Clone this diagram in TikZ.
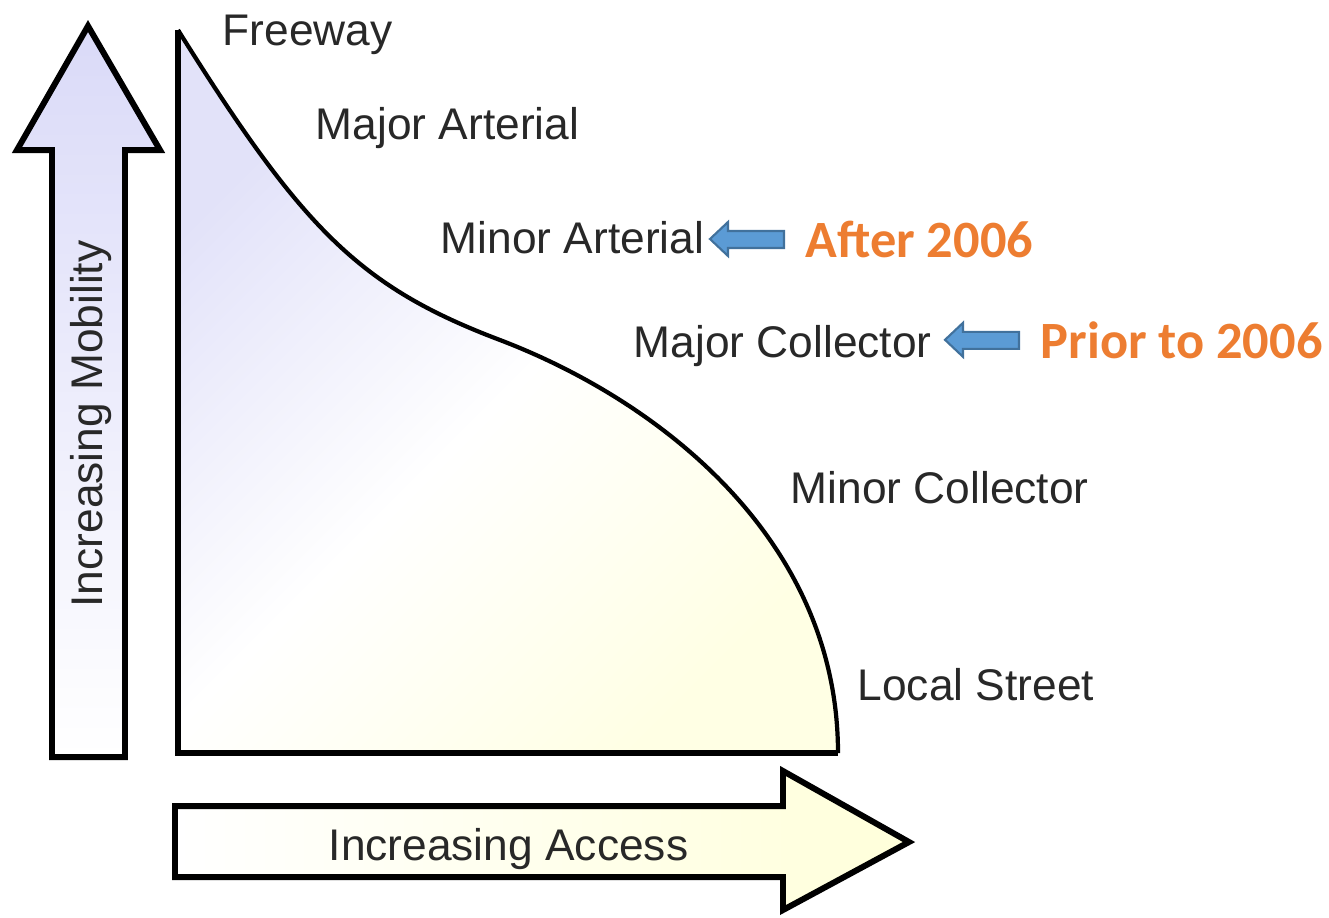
\documentclass[tikz,border=0pt]{standalone}
\usepackage{fontspec}
\setmainfont{Liberation Sans}
\newfontfamily\calibri{Carlito}
\usetikzlibrary{positioning,calc,shadings}

\definecolor{lavender}{RGB}{218,218,248}
\definecolor{paleyellow}{RGB}{255,255,218}
\definecolor{fadelav}{RGB}{226,226,249}
\definecolor{fadeyel}{RGB}{255,255,228}
\definecolor{labelgray}{RGB}{40,40,40}
\definecolor{noteorange}{RGB}{237,125,49}
\definecolor{arrowblue}{RGB}{91,155,213}
\definecolor{arrowedge}{RGB}{65,113,156}

\pgfdeclarehorizontalshading{roadfade}{100bp}{color(0bp)=(fadelav); color(25bp)=(fadelav); color(50bp)=(white); color(75bp)=(fadeyel); color(100bp)=(fadeyel)}

\tikzset{
  road/.style={font=\fontsize{12.6}{15}\selectfont, text=labelgray, inner sep=0pt, anchor=base west},
  note/.style={font=\calibri\bfseries\fontsize{14.9}{17}\selectfont, text=noteorange, inner sep=0pt, anchor=base west},
  bigarrow/.style={line width=1.7pt, line join=miter},
  pointer/.style={fill=arrowblue, draw=arrowedge, line width=0.6pt}
}

\begin{document}
\begin{tikzpicture}[x=0.01cm,y=-0.01cm]
\useasboundingbox (0,0) rectangle (1329,917);
% mobility arrow
\coordinate (ut) at (88,26);
\draw[bigarrow, top color=lavender, bottom color=white] (52,757) -- (52,150) -- (17,150) -- (ut) -- (160,150) -- (125,150) -- (125,757) -- cycle;
\node[rotate=90, font=\fontsize{12.6}{15}\selectfont, text=labelgray] (mob) at (91,424) {Increasing Mobility};
% access arrow
\coordinate (rt) at (909,842);
\draw[bigarrow, left color=white, right color=paleyellow] (175,806) -- (783,806) -- (783,771) -- (rt) -- (783,910) -- (783,877) -- (175,877) -- cycle;
\node[road] (acc) at (328,860) {Increasing Access};
% the curve
\coordinate (fw) at (178,30);
\coordinate (o) at (178,753);
\coordinate (ls) at (838,753);
\coordinate (mid) at (500,340);
\shade[shading=roadfade, shading angle=-45] (fw) -- (o) -- (ls) .. controls (838,543) and (665,403) .. (mid) .. controls (360,287) and (303,230) .. (fw);
\draw[line width=1.2pt] (ls) .. controls (838,543) and (665,403) .. (mid) .. controls (360,287) and (303,230) .. (fw);
\draw[line width=1.7pt] (fw) -- (o) -- (ls);
% road classes
\node[road] (free) at (222,45) {Freeway};
\node[road] (majart) at (315,139) {Major Arterial};
\node[road] (minart) at (440,253) {Minor Arterial};
\node[road] (majcol) at (633,357) {Major Collector};
\node[road] (mincol) at (790,503) {Minor Collector};
\node[road] (local) at (857,700) {Local Street};
% notes
\node[note] (after) at (805,257) {After 2006};
\node[note] (prior) at (1040,358) {Prior to 2006};
\draw[pointer] (after.west) ++(-21,-8) -- ++(-56,0) -- ++(0,-9) -- ++(-18,17) -- ++(18,17) -- ++(0,-8) -- ++(56,0) -- cycle;
\draw[pointer] (prior.west) ++(-21,-8) -- ++(-56,0) -- ++(0,-9) -- ++(-18,17) -- ++(18,17) -- ++(0,-8) -- ++(56,0) -- cycle;
\end{tikzpicture}
\end{document}
